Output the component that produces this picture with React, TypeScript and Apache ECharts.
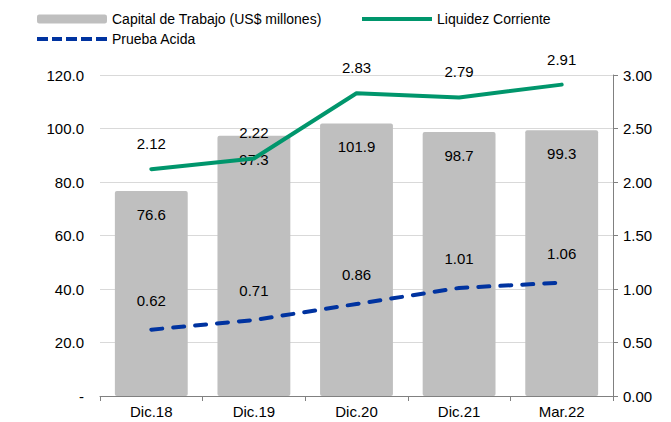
import React, { useEffect, useRef } from "react";
import * as echarts from "echarts";

const categories = ["Dic.18", "Dic.19", "Dic.20", "Dic.21", "Mar.22"];
const capitalTrabajo = [76.6, 97.3, 101.9, 98.7, 99.3];
const liquidezCorriente = [2.12, 2.22, 2.83, 2.79, 2.91];
const pruebaAcida = [0.62, 0.71, 0.86, 1.01, 1.06];

const FONT = "Liberation Sans, Arial, sans-serif";

export default function App() {
  const ref = useRef<HTMLDivElement>(null);
  useEffect(() => {
    if (!ref.current) return;
    const chart = echarts.init(ref.current, undefined, { renderer: "svg" });
    chart.setOption({
      animation: false,
      textStyle: { fontFamily: FONT },
      legend: [
        {
          data: ["Capital de Trabajo (US$ millones)"],
          left: 32, top: 7, itemWidth: 70, itemHeight: 9, itemGap: 6,
          textStyle: { fontSize: 14, color: "#000", fontFamily: FONT },
        },
        {
          data: [{ name: "Liquidez Corriente", icon: "path://M0,0 L70,0 L70,4 L0,4 Z" }],
          left: 357, top: 7, itemWidth: 70, itemHeight: 4,
          textStyle: { fontSize: 14, color: "#000", fontFamily: FONT },
        },
        {
          data: [{
            name: "Prueba Acida",
            icon: "path://M0,0h11v4h-11z M15,0h10v4h-10z M29,0h11v4h-11z M44,0h11v4h-11z M59,0h11v4h-11z",
          }],
          left: 32, top: 27, itemWidth: 70, itemHeight: 4,
          textStyle: { fontSize: 14, color: "#000", fontFamily: FONT },
        },
      ],
      grid: { left: 100, right: 58, top: 75, bottom: 26 },
      xAxis: {
        type: "category",
        data: categories,
        axisLine: { lineStyle: { color: "#808080", width: 1 } },
        axisTick: { show: true, length: 5, lineStyle: { color: "#808080" } },
        axisLabel: { color: "#000", fontSize: 15, margin: 8, fontFamily: FONT },
      },
      yAxis: [
        {
          type: "value",
          min: 0, max: 120, interval: 20,
          axisLine: { show: false },
          axisTick: { show: false },
          splitLine: { lineStyle: { color: "#d9d9d9", width: 1 } },
          axisLabel: {
            color: "#000", fontSize: 15, margin: 16, fontFamily: FONT,
            formatter: (v: number) => (v === 0 ? "-" : v.toFixed(1)),
          },
        },
        {
          type: "value",
          min: 0, max: 3, interval: 0.5,
          position: "right",
          axisLine: { show: true, lineStyle: { color: "#808080", width: 1 } },
          axisTick: { show: true, length: 5, lineStyle: { color: "#808080" } },
          splitLine: { show: false },
          axisLabel: {
            color: "#000", fontSize: 15, margin: 10, fontFamily: FONT,
            formatter: (v: number) => v.toFixed(2),
          },
        },
      ],
      series: [
        {
          name: "Capital de Trabajo (US$ millones)",
          type: "bar",
          data: capitalTrabajo,
          barWidth: "71%",
          itemStyle: { color: "#bfbfbf", borderRadius: 2 },
          z: 2,
          label: {
            show: true, position: "insideTop", distance: 16,
            color: "#000", fontSize: 15, fontFamily: FONT,
            formatter: (p: any) => p.value.toFixed(1),
          },
        },
        {
          name: "Liquidez Corriente",
          type: "line",
          yAxisIndex: 1,
          data: liquidezCorriente,
          symbol: "circle",
          symbolSize: 0,
          lineStyle: { color: "#00966c", width: 4, cap: "round", join: "round" },
          itemStyle: { color: "#00966c" },
          label: {
            show: true, position: "top", distance: 18,
            color: "#000", fontSize: 15, fontFamily: FONT,
            formatter: (p: any) => p.value.toFixed(2),
          },
        },
        {
          name: "Prueba Acida",
          type: "line",
          yAxisIndex: 1,
          data: pruebaAcida,
          symbol: "circle",
          symbolSize: 0,
          lineStyle: { color: "#0033a0", width: 4, type: [11, 11], cap: "round", join: "round" },
          itemStyle: { color: "#0033a0" },
          label: {
            show: true, position: "top", distance: 22,
            color: "#000", fontSize: 15, fontFamily: FONT,
            formatter: (p: any) => p.value.toFixed(2),
          },
        },
      ],
    });
    return () => chart.dispose();
  }, []);
  return <div ref={ref} style={{ width: 671, height: 422, position: "absolute", left: 0, top: 0 }} />;
}
